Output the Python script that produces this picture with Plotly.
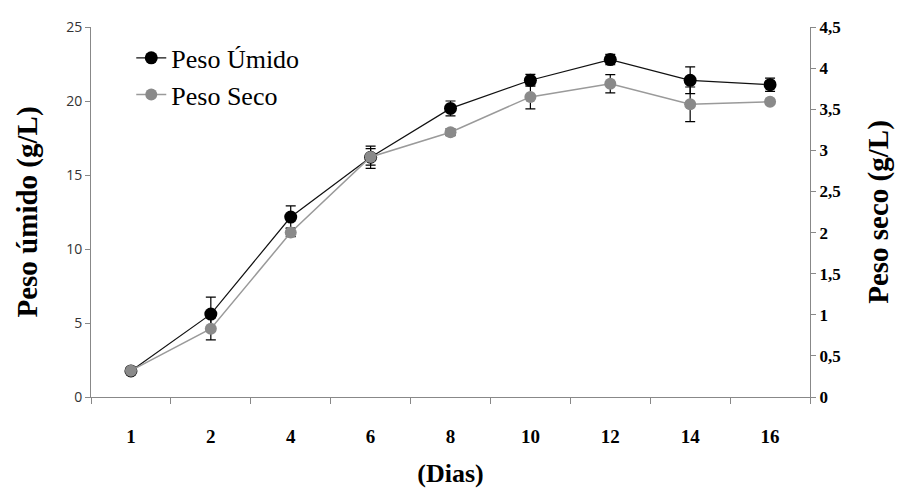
import plotly.graph_objects as go

dias = ["1", "2", "4", "6", "8", "10", "12", "14", "16"]
peso_umido = [1.76, 5.6, 12.16, 16.2, 19.5, 21.4, 22.8, 21.4, 21.1]
err_umido = [0.1, 1.15, 0.75, 0.75, 0.5, 0.4, 0.35, 0.9, 0.45]
peso_seco = [0.32, 0.83, 2.0, 2.92, 3.22, 3.65, 3.81, 3.56, 3.59]
err_seco = [0.02, 0.135, 0.05, 0.1, 0.04, 0.145, 0.11, 0.21, 0.03]

left_ticks = [0, 5, 10, 15, 20, 25]
right_ticks = [0, 0.5, 1, 1.5, 2, 2.5, 3, 3.5, 4, 4.5]
right_labels = ["0", "0,5", "1", "1,5", "2", "2,5", "3", "3,5", "4", "4,5"]

serif = "Liberation Serif"

fig = go.Figure()
fig.add_trace(go.Scatter(
    x=dias, y=peso_umido, name="Peso Úmido", mode="lines+markers",
    line=dict(color="#111111", width=1.2),
    marker=dict(color="#000000", size=13),
    error_y=dict(type="data", array=err_umido, color="#000000", thickness=1.2, width=5),
    yaxis="y",
))
fig.add_trace(go.Scatter(
    x=dias, y=peso_seco, name="Peso Seco", mode="lines+markers",
    line=dict(color="#9a9a9a", width=1.5),
    marker=dict(color="#8a8a8a", size=12),
    error_y=dict(type="data", array=err_seco, color="#000000", thickness=1.2, width=5),
    yaxis="y2",
))

fig.update_layout(
    width=902, height=495,
    margin=dict(l=91, r=92, t=27, b=98),
    paper_bgcolor="white", plot_bgcolor="white",
    showlegend=True,
    legend=dict(
        x=0.056, y=0.98, xanchor="left", yanchor="top",
        font=dict(family=serif, size=26, color="#000000"),
        bgcolor="rgba(0,0,0,0)", tracegroupgap=0, itemwidth=30,
    ),
    xaxis=dict(
        type="category", categoryorder="array", categoryarray=dias,
        range=[-0.5, 8.5],
        showline=True, linecolor="#888888", linewidth=1,
        ticks="outside", tickson="boundaries", ticklen=6, tickcolor="#888888",
        showgrid=False, zeroline=False,
        ticklabelstandoff=22,
        tickfont=dict(family=serif, size=19, color="#000000", weight="bold"),
        title=dict(text="(Dias)", font=dict(family=serif, size=26, color="#000000", weight="bold"), standoff=18),
    ),
    yaxis=dict(
        range=[0, 25], tickvals=left_ticks, ticktext=[str(v) for v in left_ticks],
        showline=True, linecolor="#888888", linewidth=1,
        ticks="outside", ticklen=5, tickcolor="#888888",
        showgrid=False, zeroline=False,
        tickfont=dict(family="Open Sans", size=14, color="#333333"),
        title=dict(text="Peso úmido (g/L)", font=dict(family=serif, size=29, color="#000000", weight="bold"), standoff=20),
    ),
    yaxis2=dict(
        range=[0, 4.5], tickvals=right_ticks, ticktext=right_labels,
        overlaying="y", side="right",
        showline=True, linecolor="#888888", linewidth=1,
        ticks="outside", ticklen=5, tickcolor="#888888",
        showgrid=False, zeroline=False,
        tickfont=dict(family=serif, size=17, color="#000000", weight="bold"),
        title=dict(text="Peso seco (g/L)", font=dict(family=serif, size=29, color="#000000", weight="bold"), standoff=28),
    ),
)

fig.write_html("out.html")
